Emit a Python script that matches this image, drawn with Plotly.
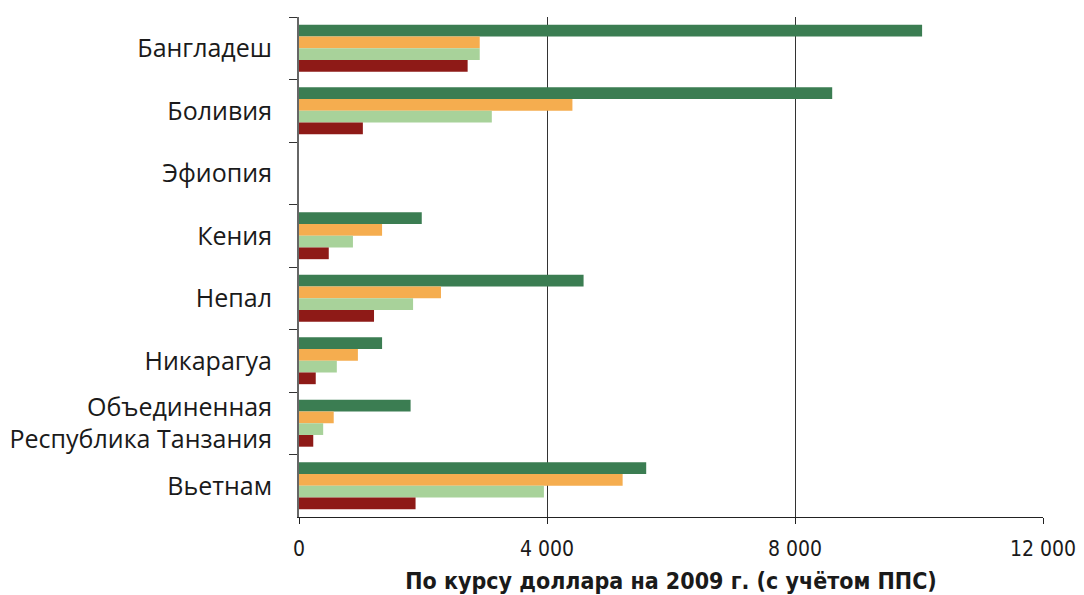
import plotly.graph_objects as go

categories = ["Бангладеш", "Боливия", "Эфиопия", "Кения", "Непал", "Никарагуа",
              "Объединенная<br>Республика Танзания", "Вьетнам"]
series_a = [10050, 8600, None, 1980, 4590, 1340, 1800, 5600]   # dark green
series_b = [2915, 4410, None, 1340, 2290, 950, 560, 5220]      # orange
series_c = [2915, 3110, None, 870, 1840, 610, 390, 3950]       # light green
series_d = [2720, 1030, None, 480, 1210, 270, 230, 1880]       # dark red
tick_vals = [0, 4000, 8000, 12000]
tick_text = ["0", "4 000", "8 000", "12 000"]
colors = ["#3b7d52", "#f5ad4f", "#a8d29a", "#8e1a17"]

fig = go.Figure()
for vals, col in zip([series_a, series_b, series_c, series_d], colors):
    fig.add_trace(go.Bar(
        y=categories, x=vals, orientation="h",
        marker=dict(color=col, line=dict(width=0)),
        showlegend=False, hoverinfo="skip"))

cond = "Liberation Sans Narrow, DejaVu Sans Condensed, sans-serif"
fig.update_layout(
    width=1076, height=587,
    margin=dict(l=291, r=41, t=9, b=78, autoexpand=False),
    paper_bgcolor="white", plot_bgcolor="white",
    barmode="group", bargap=0.25, bargroupgap=0,
    font=dict(family="Open Sans, sans-serif", color="#1a1a1a"),
)
fig.update_xaxes(
    automargin=False,
    range=[0, 12000], tickvals=tick_vals, ticktext=tick_text,
    showgrid=True, gridcolor="#333333", gridwidth=1, zeroline=False,
    showline=True, linecolor="#222222", linewidth=1,
    ticks="outside", ticklen=6, tickcolor="#222222",
    ticklabelstandoff=7,
    tickfont=dict(family=cond, size=21, color="#1a1a1a"),
    title=dict(text="<b>По курсу доллара на 2009 г. (с учётом ППС)</b>",
               font=dict(family=cond, size=23, color="#1a1a1a"), standoff=12),
)
fig.update_yaxes(
    automargin=False,
    autorange="reversed", tickson="boundaries",
    showline=True, linecolor="#666666", linewidth=2,
    ticks="outside", ticklen=8, tickcolor="#333333",
    showgrid=False, ticklabelstandoff=20,
    tickfont=dict(family="Open Sans, sans-serif", size=25, color="#1a1a1a"),
)
fig.write_html("out.html")
